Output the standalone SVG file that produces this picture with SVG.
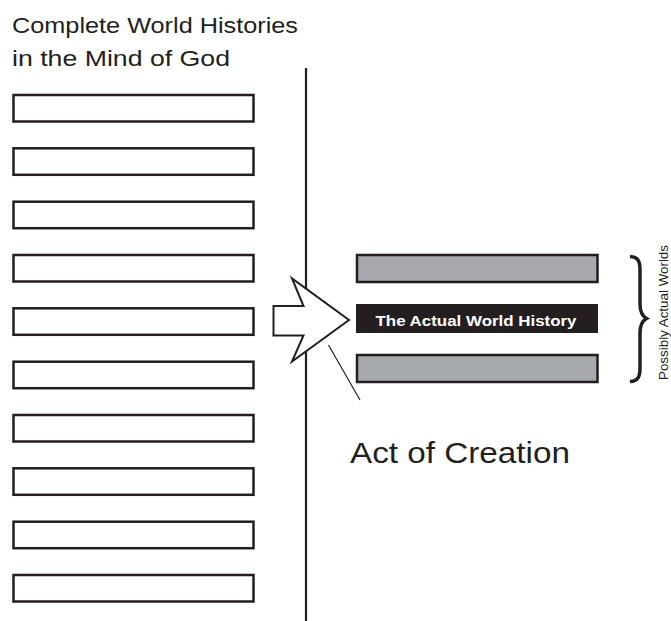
<svg xmlns="http://www.w3.org/2000/svg" width="671" height="621" viewBox="0 0 671 621">
<style>
.box{fill:#fff;stroke:#231f20;stroke-width:2.5}
.gray{fill:#a7a9ac;stroke:#231f20;stroke-width:2.5}
.t{font-family:"Liberation Sans",Arial,sans-serif;fill:#231f20}
</style>
<rect width="671" height="621" fill="#fff"/>
<text class="t" x="12" y="33" font-size="22" textLength="286" lengthAdjust="spacingAndGlyphs">Complete World Histories</text>
<text class="t" x="12" y="66" font-size="22" textLength="218" lengthAdjust="spacingAndGlyphs">in the Mind of God</text>
<g id="histories">
<rect class="box" x="13.5" y="95" width="240" height="26.5"/>
<rect class="box" x="13.5" y="148.3" width="240" height="26.5"/>
<rect class="box" x="13.5" y="201.7" width="240" height="26.5"/>
<rect class="box" x="13.5" y="255" width="240" height="26.5"/>
<rect class="box" x="13.5" y="308.3" width="240" height="26.5"/>
<rect class="box" x="13.5" y="361.7" width="240" height="26.5"/>
<rect class="box" x="13.5" y="415" width="240" height="26.5"/>
<rect class="box" x="13.5" y="468.3" width="240" height="26.5"/>
<rect class="box" x="13.5" y="521.7" width="240" height="26.5"/>
<rect class="box" x="13.5" y="575" width="240" height="26.5"/>
</g>
<g id="divider"><line x1="306" y1="68" x2="306" y2="621" stroke="#231f20" stroke-width="2.2"/></g>
<g id="worlds">
<rect class="gray" x="357" y="255" width="240.5" height="27"/>
<rect x="356" y="304" width="242" height="29" fill="#231f20"/>
<text x="476" y="326" font-family="Liberation Sans,Arial,sans-serif" font-weight="bold" font-size="15" fill="#fff" text-anchor="middle" textLength="201" lengthAdjust="spacingAndGlyphs">The Actual World History</text>
<rect class="gray" x="357" y="355" width="240.5" height="27"/>
</g>
<g id="connectors">
<polygon points="273.5,306 303.5,306 292,278.5 349,320 292,361.5 303.5,335.5 273.5,335.5" fill="#fff" stroke="#231f20" stroke-width="2" stroke-linejoin="miter"/>
<line x1="328.5" y1="345" x2="360" y2="400" stroke="#231f20" stroke-width="1.2"/>
</g>
<text class="t" x="350" y="463" font-size="29" textLength="220" lengthAdjust="spacingAndGlyphs">Act of Creation</text>
<g id="brace">
<path d="M630,256.5 C638,257 640,261 640,270 L640,304 C640,312 642,316 646.5,318.5 C642,321 640,325 640,333 L640,368 C640,377 638,381 630,381.5" fill="none" stroke="#231f20" stroke-width="3.5"/>
<text class="t" transform="translate(668,380) rotate(-90)" font-size="12.5" textLength="135" lengthAdjust="spacingAndGlyphs">Possibly Actual Worlds</text>
</g>
</svg>
